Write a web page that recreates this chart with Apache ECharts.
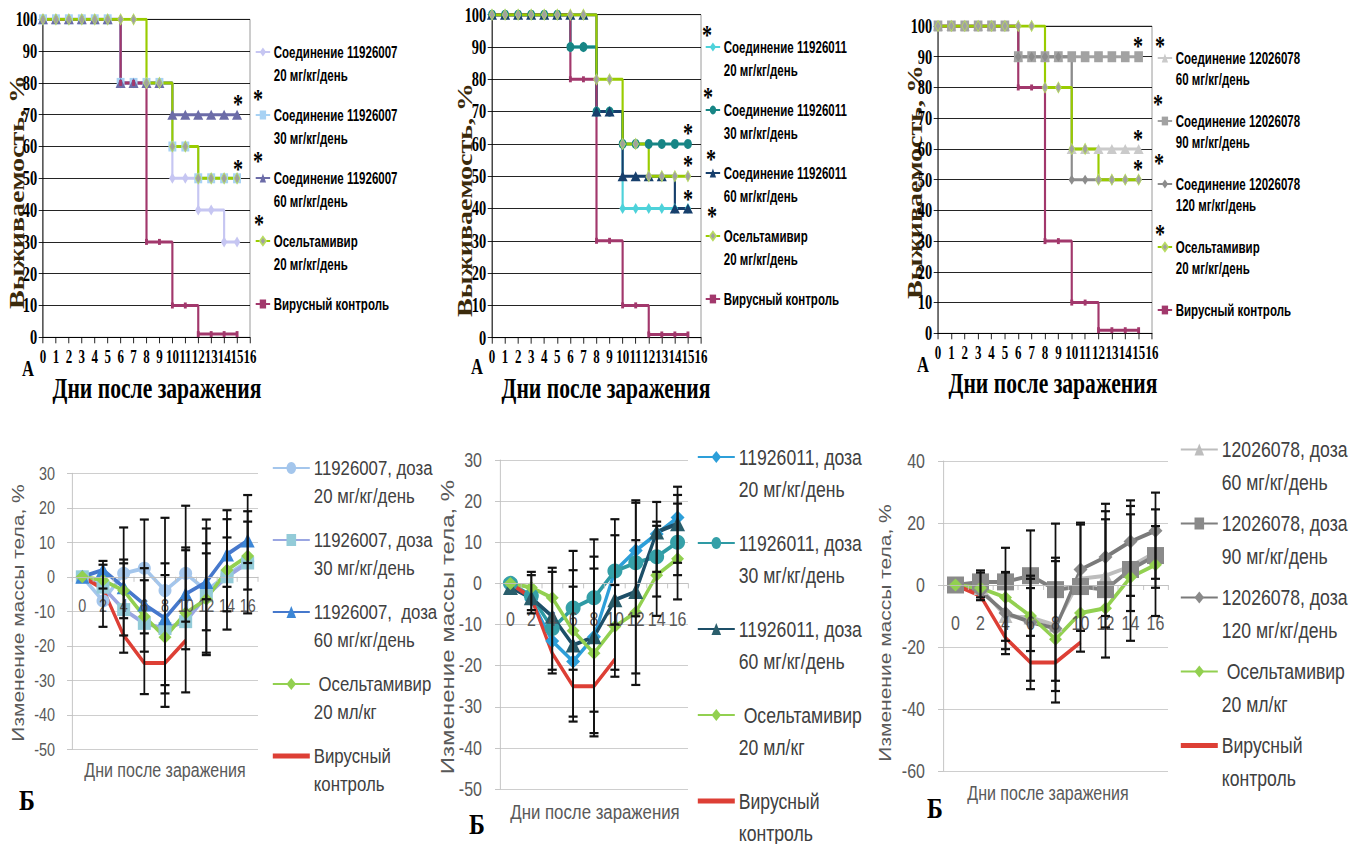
<!DOCTYPE html>
<html lang="ru"><head><meta charset="utf-8"><title>chart</title>
<script src="https://cdn.jsdelivr.net/npm/echarts@6.0.0/dist/echarts.min.js"></script>
<style>
html,body{margin:0;padding:0;background:#fff;width:1364px;height:844px;overflow:hidden;}
#bottom{position:absolute;left:0;top:0;width:1705px;height:844px;transform:scaleX(0.8);transform-origin:0 0;}
#top{position:absolute;left:0;top:0;width:1894px;height:420px;transform:scaleX(0.7202);transform-origin:0 0;}
</style></head><body>
<div id="bottom"></div><div id="top"></div>
<script>
// ===== DATA: survival (top row, A) =====
const survDays = [0,1,2,3,4,5,6,7,8,9,10,11,12,13,14,15];
const survA1_20 = [100,100,100,100,100,100,80,80,80,80,50,50,40,40,30,30];
const survA1_30 = [100,100,100,100,100,100,80,80,80,80,60,60,50,50,50,50];
const survA1_60 = [100,100,100,100,100,100,80,80,80,80,70,70,70,70,70,70];
const survA2_20 = [100,100,100,100,100,100,90,90,70,70,40,40,40,40,40,40];
const survA2_30 = [100,100,100,100,100,100,90,90,70,70,60,60,60,60,60,60];
const survA2_60 = [100,100,100,100,100,100,100,100,70,70,50,50,50,50,40,40];
const survA3_60 = [100,100,100,100,100,100,90,90,90,90,60,60,60,60,60,60];
const survA3_90 = [100,100,100,100,100,100,90,90,90,90,90,90,90,90,90,90];
const survA3_120 = [100,100,100,100,100,100,90,90,90,90,50,50,50,50,50,50];
const survOsel = [100,100,100,100,100,100,100,100,80,80,60,60,50,50,50,50];
const survVirus = [100,100,100,100,100,100,80,80,30,30,10,10,1,1,1,1];

// ===== DATA: body weight change (bottom row, Б) =====
const weightDays = ['0','2','4','6','8','10','12','14','16'];
const wB1_20 = [0,-7,1,2.5,-4,1,-4,0.5,4.5];
const wB1_30 = [0,-3,-9.5,-13.5,-15,-13,-5.5,0,4];
const wB1_60 = [0,2,-3,-8,-12,-5,-1.5,6.5,10.5];
const wB1_osel = [0,-1,-4,-11.5,-17.5,-10.5,-6.5,2,6];
const wB2_20 = [0,-4,-14,-19,-13,3,8,12,16];
const wB2_30 = [0,-3,-11,-6,-3.5,3,5,6.5,10];
const wB2_60 = [-1,-3.5,-8,-15,-13,-4,-2,12.5,14.5];
const wB2_osel = [0,-1,-3.5,-11.5,-17,-10.5,-7,2,6];
const wB3_60 = [0,-1,-10,-10.5,-13,2,3,6,10.5];
const wB3_90 = [0,1,1,3,-1.5,-0.5,-1.5,5,9.5];
const wB3_120 = [0,-2,-9,-12,-14,5,9,14,17.5];
const wB3_osel = [0,-1,-4,-10,-17.5,-9,-7.5,2.5,6.5];
const wVirus = [0,-3.5,-17,-25,-25,-18.5,null,null,null];
// error bars: [day, low, high]
const errB1 = [[2,-14.5,4.6],[2,-3.4,3.5],[4,-22,14.3],[4,-12,5],[4,-17,3.9],
  [6,-34,16.6],[6,-16.4,-1],[6,-21.7,2.5],[8,-37.7,17.1],[8,-31.4,3.9],[8,-33.8,0.5],
  [10,-33.5,20.6],[10,-21,8.5],[10,-13,7.7],[12,-22.7,16.6],[12,-22,14],[12,-15.5,9.7],[12,-6.5,6.8],
  [14,-15.3,19.3],[14,-10,16.7],[14,-2.9,11.4],[16,-10.6,23.7],[16,-3.7,19],[16,4,16]];
const errB2 = [[2,-7.3,2.8],[2,-6.5,2],[4,-21.9,3.8],[4,-21,2.8],
  [6,-33.6,7.9],[6,-32.4,3.2],[6,-21,-0.8],[8,-37.2,10.7],[8,-36.4,6.5],[8,-31.2,3.6],
  [10,-22.7,15.6],[10,-21,11.7],[10,-10,-0.4],[12,-24.7,20.2],[12,-21.9,19.6],[12,-8,10.5],
  [14,-7.9,19.8],[14,-3.2,15],[14,2.8,14],[16,-3.9,23.5],[16,2,21.5],[16,5,19.4]];
const errB3 = [[2,-4.9,4.7],[2,-4,4],[4,-22.3,12],[4,-20.7,4.2],[4,-18,4],
  [6,-33.6,17.6],[6,-30.9,-1],[6,-21.3,2],[6,-16.4,3],[8,-37.9,19.8],[8,-34.2,8.8],[8,-30.9,7.7],
  [10,-21.5,20.1],[10,-14.8,19.5],[12,-23.4,26.2],[12,-13.7,23.8],[12,-10,21.2],
  [14,-18,27.3],[14,-8.4,25.5],[14,-3.5,22.8],[16,-10,29.8],[16,-0.9,24.4],[16,2,19]];

// ===== names =====
const nA1 = ['Соединение 11926007\n20 мг/кг/день','Соединение 11926007\n30 мг/кг/день','Соединение 11926007\n60 мг/кг/день'];
const nA2 = ['Соединение 11926011\n20 мг/кг/день','Соединение 11926011\n30 мг/кг/день','Соединение 11926011\n60 мг/кг/день'];
const nA3 = ['Соединение 12026078\n60 мг/кг/день','Соединение 12026078\n90 мг/кг/день','Соединение 12026078\n120 мг/кг/день'];
const nAosel = 'Осельтамивир\n20 мг/кг/день';
const nAvirus = 'Вирусный контроль';
const nB1 = ['11926007, доза\n20 мг/кг/день','11926007, доза\n30 мг/кг/день','11926007,  доза\n60 мг/кг/день'];
const nB2 = ['11926011, доза\n20 мг/кг/день','11926011, доза\n30 мг/кг/день','11926011, доза\n60 мг/кг/день'];
const nB3 = ['12026078, доза\n60 мг/кг/день','12026078, доза\n90 мг/кг/день','12026078, доза\n120 мг/кг/день'];
const nBosel = ' Осельтамивир\n20 мл/кг';
const nBvirus = 'Вирусный\nконтроль';

// ===== layout / styles =====
const SQ = 0.7202;   // horizontal compression of the top row
const K = 0.8;       // horizontal compression of the bottom row
const SERIF = '"Liberation Serif", "Times New Roman", serif';
const SANS = '"Liberation Sans", Arial, sans-serif';
const fmt3 = n => n.indexOf('\n') >= 0 ? '\n' + n : '\n' + n + '\n';

// ---------- TOP (survival) ----------
const topGrids = [
  {left: 43/SQ, top: 19.3, width: (250-43)/SQ, height: 318},
  {left: 492/SQ, top: 14.7, width: (701-492)/SQ, height: 323},
  {left: 938/SQ, top: 26, width: (1152-938)/SQ, height: 307.3}
];
function survSeries(name, vals, gi, st) {
  return {type:'line', name, xAxisIndex:gi, yAxisIndex:gi,
    data: survDays.map((d,k)=>[d, vals[k]]), step:'end', showAllSymbol:true,
    symbol: st.symbol, symbolSize: st.size,
    lineStyle:{color: st.color, width: st.lw || 3},
    itemStyle:{color: st.fill || st.color, borderColor: st.border || st.fill || st.color, borderWidth: st.bw || 0},
    emphasis:{disabled:true}, animation:false};
}
const stVirusA = {symbol:'rect', size:[4,6], color:'#a2386c', lw:3};
const stOselA = {symbol:'diamond', size:[8,11], color:'#99cc00', fill:'#a0a0a0', border:'#b8dc60', bw:1};
const topSeries = [
  survSeries(nA1[0], survA1_20, 0, {symbol:'diamond', size:[9,11], color:'#c6c6f2'}),
  survSeries(nA1[1], survA1_30, 0, {symbol:'rect', size:[11,10], color:'#a8d2f4'}),
  survSeries(nA1[2], survA1_60, 0, {symbol:'triangle', size:[14,10], color:'#6c6ca8'}),
  survSeries(nAvirus, survVirus, 0, stVirusA),
  survSeries(nAosel, survOsel, 0, stOselA),
  survSeries(nA2[0], survA2_20, 1, {symbol:'diamond', size:[9,11], color:'#4ed2da'}),
  survSeries(nA2[1], survA2_30, 1, {symbol:'circle', size:[11,10], color:'#178585'}),
  survSeries(nA2[2], survA2_60, 1, {symbol:'triangle', size:[14,10], color:'#173f6c'}),
  survSeries(nAvirus, survVirus, 1, stVirusA),
  survSeries(nAosel, survOsel, 1, stOselA),
  survSeries(nA3[0], survA3_60, 2, {symbol:'triangle', size:[14,10], color:'#cacaca'}),
  survSeries(nA3[1], survA3_90, 2, {symbol:'rect', size:[12,11], color:'#a2a2a2'}),
  survSeries(nA3[2], survA3_120, 2, {symbol:'diamond', size:[9,10], color:'#8c8c8c'}),
  survSeries(nAvirus, survVirus, 2, stVirusA),
  survSeries(nAosel, survOsel, 2, stOselA)
];
function topLegend(left, top, names, lh, gap) {
  return {orient:'vertical', left, top, padding:0, itemGap:gap, itemWidth:20, itemHeight:11, height:400,
    selectedMode:false, data: names, formatter: fmt3,
    textStyle:{fontFamily:SANS, fontWeight:'bold', fontSize:16, color:'#000', lineHeight:lh}};
}
const topText = [];
function tText(x, y, text, font, fill, rot) {
  topText.push({type:'text', x: x/SQ, y, rotation: rot || 0, silent:true,
    style:{text, font, fill: fill || '#000', align:'center', verticalAlign:'middle'}});
}
[[157,388],[606,388],[1053,383]].forEach(p=>tText(p[0],p[1],'Дни после заражения','bold 30px '+SERIF));
[[17,192],[465,200],[915,182]].forEach(p=>tText(p[0],p[1],'Выживаемость, %','bold 28px '+SERIF,'#3b2a0c',Math.PI/2));
[[28,368],[477,366],[923,364]].forEach(p=>tText(p[0],p[1],'А','bold 23px '+SERIF));
const starPos = [[238,98],[258,93],[238,163],[258,155],[259,218],
  [707,29],[708,91],[688,127],[711,153],[688,159],[688,193],[712,210],
  [1138,40],[1160,40],[1158,98],[1138,133],[1159,157],[1138,163],[1160,228]];
starPos.forEach(p=>tText(p[0], p[1]+5, '*', 'bold 28px '+SERIF));

const topOption = {
  animation:false, backgroundColor:'transparent',
  grid: topGrids.map(g=>Object.assign({show:true, borderColor:'#8a8a8a', borderWidth:1, backgroundColor:'transparent', containLabel:false, outerBoundsMode:'none'}, g)),
  xAxis: topGrids.map((g,i)=>({type:'value', gridIndex:i, min:0, max:16, interval:1,
    axisLine:{show:true, onZero:false, lineStyle:{color:'#000', width:1}},
    axisTick:{show:true, length:6, lineStyle:{color:'#000', width:1}},
    axisLabel:{show:true, margin:10, color:'#000', fontFamily:SERIF, fontWeight:'bold', fontSize:18, showMinLabel:true, showMaxLabel:true, hideOverlap:false},
    splitLine:{show:false}})),
  yAxis: topGrids.map((g,i)=>({type:'value', gridIndex:i, min:0, max:100, interval:10,
    axisLine:{show:true, onZero:false, lineStyle:{color:'#000', width:1}},
    axisTick:{show:true, length:6, lineStyle:{color:'#000', width:1}},
    axisLabel:{show:true, margin:8, color:'#000', fontFamily:SERIF, fontWeight:'bold', fontSize:20},
    splitLine:{show:true, lineStyle:{color:'#000', width:1}}})),
  legend: [
    topLegend(255/SQ, 17.5, [nA1[0],nA1[1],nA1[2],nAosel,nAvirus], 23, -6),
    topLegend(705/SQ, 12.5, [nA2[0],nA2[1],nA2[2],nAosel,nAvirus], 23, -6),
    topLegend(1157/SQ, 26.5, [nA3[0],nA3[1],nA3[2],nAosel,nAvirus], 21, 0)
  ],
  graphic: topText,
  series: topSeries
};

// ---------- BOTTOM (weight) ----------
const botGrids = [
  {left:72/K, top:473.3, width:186/K, height:276},
  {left:500/K, top:460, width:188/K, height:329},
  {left:943/K, top:461, width:225/K, height:310}
];
const botY = [{min:-50,max:30,interval:10,fs:18,m:17},{min:-50,max:30,interval:10,fs:20,m:18},{min:-60,max:40,interval:20,fs:20,m:18}];
const botXm = [{m:20,fs:18},{m:26,fs:20},{m:28,fs:20}];
function wSeries(name, vals, gi, st) {
  return {type:'line', name, xAxisIndex:gi, yAxisIndex:gi, data: vals,
    symbol: st.symbol, symbolSize: st.size ? [st.size/K, st.size] : 0, showAllSymbol:true, connectNulls:false,
    lineStyle:{color: st.color, width: 4},
    itemStyle:{color: st.fill || st.color},
    emphasis:{disabled:true}, animation:false, z:2};
}
function errSeries(gi, list) {
  return {type:'custom', xAxisIndex:gi, yAxisIndex:gi, silent:true, z:8, animation:false,
    data: list.map(d=>[weightDays.indexOf(String(d[0])), d[1], d[2]]),
    encode:{x:0, y:[1,2]},
    renderItem:(params, api)=>{
      const xi = api.value(0);
      const lo = api.coord([xi, api.value(1)]);
      const hi = api.coord([xi, api.value(2)]);
      const w = 4.5/K;
      return {type:'group', children:[
        {type:'line', shape:{x1:lo[0],y1:lo[1],x2:hi[0],y2:hi[1]}, style:{stroke:'#111', lineWidth:2.2}},
        {type:'line', shape:{x1:lo[0]-w,y1:lo[1],x2:lo[0]+w,y2:lo[1]}, style:{stroke:'#111', lineWidth:2.2}},
        {type:'line', shape:{x1:hi[0]-w,y1:hi[1],x2:hi[0]+w,y2:hi[1]}, style:{stroke:'#111', lineWidth:2.2}}
      ]};
    }};
}
const stOselB = {symbol:'diamond', size:13, color:'#92d050'};
const stVirusB = {symbol:'none', size:0, color:'#dd3f35'};
const botSeries = [
  wSeries(nB1[0], wB1_20, 0, {symbol:'circle', size:13, color:'#a4c6ec'}),
  wSeries(nB1[1], wB1_30, 0, {symbol:'rect', size:13, color:'#9aa6e2', fill:'#93cbd8'}),
  wSeries(nB1[2], wB1_60, 0, {symbol:'triangle', size:14, color:'#4678cc', fill:'#3c86d6'}),
  wSeries(nBosel, wB1_osel, 0, stOselB),
  wSeries(nBvirus, wVirus, 0, stVirusB),
  errSeries(0, errB1),
  wSeries(nB2[0], wB2_20, 1, {symbol:'diamond', size:14, color:'#2d9fd9'}),
  wSeries(nB2[1], wB2_30, 1, {symbol:'circle', size:15, color:'#2e9aa4', fill:'#35a0a8'}),
  wSeries(nB2[2], wB2_60, 1, {symbol:'triangle', size:15, color:'#1d4f68', fill:'#2a5e6c'}),
  wSeries(nBosel, wB2_osel, 1, stOselB),
  wSeries(nBvirus, wVirus, 1, stVirusB),
  errSeries(1, errB2),
  wSeries(nB3[0], wB3_60, 2, {symbol:'triangle', size:14, color:'#bdbdbd'}),
  wSeries(nB3[1], wB3_90, 2, {symbol:'rect', size:17, color:'#7f7f7f', fill:'#8a8a8a'}),
  wSeries(nB3[2], wB3_120, 2, {symbol:'diamond', size:14, color:'#7a7a7a', fill:'#8a8a8a'}),
  wSeries(nBosel, wB3_osel, 2, stOselB),
  wSeries(nBvirus, wVirus, 2, stVirusB),
  errSeries(2, errB3)
];
const barIcon = 'path://M0,0 L40,0 L40,4.5 L0,4.5 Z';
function botLegend(left, top, names, fs, lh, gap) {
  return {orient:'vertical', left, top, padding:0, itemGap:gap, itemWidth:37/K, itemHeight:15, height:600,
    selectedMode:false,
    data: names.map(n => n === nBvirus ? {name:n, icon:barIcon} : n), formatter: fmt3,
    textStyle:{fontFamily:SANS, fontSize:fs, color:'#404040', lineHeight:lh}};
}
const botText = [];
function bText(x, y, text, font, fill, rot) {
  botText.push({type:'text', x: x/K, y, rotation: rot || 0, silent:true,
    style:{text, font, fill: fill || '#000', align:'center', verticalAlign:'middle'}});
}
bText(165, 770, 'Дни после заражения', '20px '+SANS, '#595959');
bText(595, 812, 'Дни после заражения', '21px '+SANS, '#595959');
bText(1048, 793, 'Дни после заражения', '20px '+SANS, '#595959');
bText(18, 613, 'Изменение массы тела, %', '21px '+SANS, '#595959', Math.PI/2);
bText(447, 627, 'Изменение массы тела, %', '24px '+SANS, '#595959', Math.PI/2);
bText(885, 633, 'Изменение массы тела, %', '21px '+SANS, '#595959', Math.PI/2);
bText(27, 800, 'Б', 'bold 30px '+SERIF);
bText(477, 824, 'Б', 'bold 30px '+SERIF);
bText(935, 808, 'Б', 'bold 30px '+SERIF);

const botOption = {
  animation:false, backgroundColor:'transparent',
  grid: botGrids.map(g=>Object.assign({show:false, containLabel:false, outerBoundsMode:'none'}, g)),
  xAxis: botGrids.map((g,i)=>({type:'category', gridIndex:i, data: weightDays, boundaryGap:true, z:5,
    // axis sits on the y = 0 line of the value axis
    offset: -g.height * (0 - botY[i].min) / (botY[i].max - botY[i].min),
    axisLine:{show:true, onZero:false, lineStyle:{color:'#bfbfbf', width:1}},
    axisTick:{show:true, interval:0, length:5, lineStyle:{color:'#bfbfbf'}},
    axisLabel:{interval:0, margin: botXm[i].m, color:'#595959', fontFamily:SANS, fontSize: botXm[i].fs, hideOverlap:false},
    splitLine:{show:false}})),
  yAxis: botGrids.map((g,i)=>({type:'value', gridIndex:i, min:botY[i].min, max:botY[i].max, interval:botY[i].interval,
    axisLine:{show:true, onZero:false, lineStyle:{color:'#bfbfbf', width:1}},
    axisTick:{show:true, length:5/K, lineStyle:{color:'#bfbfbf'}},
    axisLabel:{margin: botY[i].m/K, color:'#595959', fontFamily:SANS, fontSize: botY[i].fs},
    splitLine:{show:true, lineStyle:{color:'#c8c8c8', width:1}}})),
  legend: [
    botLegend(272/K, 426, [nB1[0],nB1[1],nB1[2],nBosel,nBvirus], 21, 28, -12),
    botLegend(697/K, 409, [nB2[0],nB2[1],nB2[2],nBosel,nBvirus], 22, 32, -10),
    botLegend(1180/K, 400, [nB3[0],nB3[1],nB3[2],nBosel,nBvirus], 22, 33, -25)
  ],
  graphic: botText,
  series: botSeries
};

const botChart = echarts.init(document.getElementById('bottom'), null, {renderer:'svg'});
botChart.setOption(botOption);
const topChart = echarts.init(document.getElementById('top'), null, {renderer:'svg'});
topChart.setOption(topOption);
</script></body></html>
